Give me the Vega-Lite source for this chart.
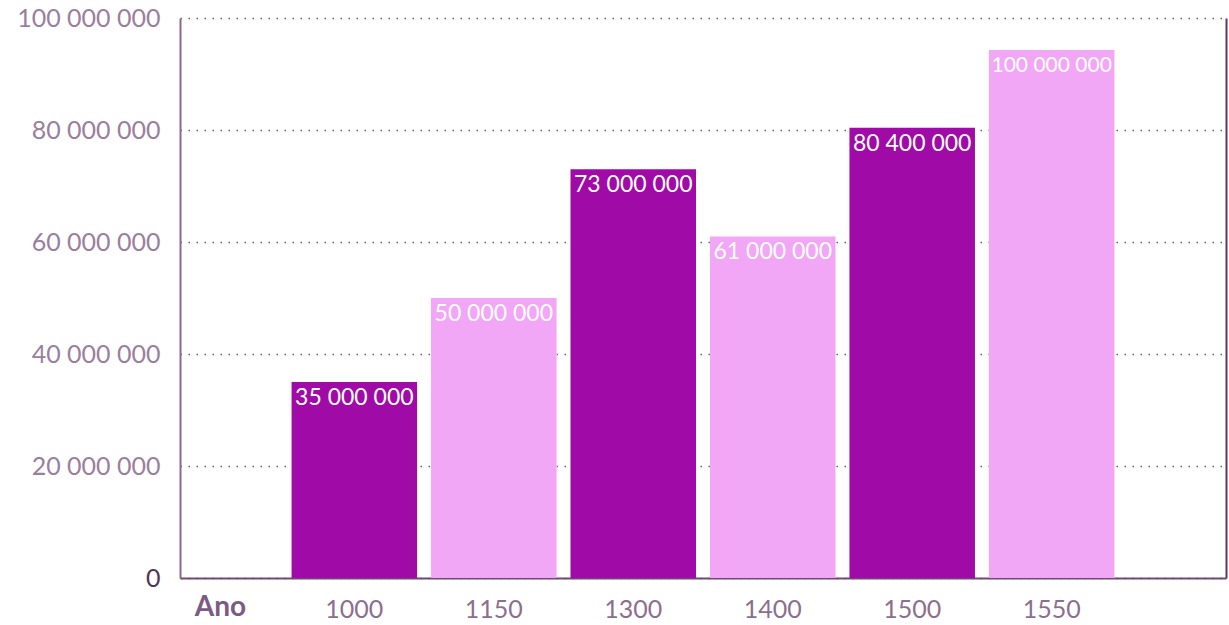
{
  "$schema": "https://vega.github.io/schema/vega-lite/v6.json",
  "autosize": "none",
  "width": 1046,
  "height": 560,
  "padding": {"left": 180, "top": 18, "right": 3, "bottom": 47},
  "background": "white",
  "config": {
    "font": "Lato",
    "view": {"stroke": null},
    "locale": {"number": {"decimal": ",", "thousands": " ", "grouping": [3], "currency": ["", ""]}}
  },
  "data": {
    "values": [
      {"Ano": "1000", "Populacao": 35000000, "rotulo": "35 000 000"},
      {"Ano": "1150", "Populacao": 50000000, "rotulo": "50 000 000"},
      {"Ano": "1300", "Populacao": 73000000, "rotulo": "73 000 000"},
      {"Ano": "1400", "Populacao": 61000000, "rotulo": "61 000 000"},
      {"Ano": "1500", "Populacao": 80400000, "rotulo": "80 400 000"},
      {"Ano": "1550", "Populacao": 94300000, "rotulo": "100 000 000"}
    ]
  },
  "encoding": {
    "x": {
      "field": "Ano",
      "type": "nominal",
      "sort": null,
      "scale": {"paddingInner": 0.1, "paddingOuter": 0.8},
      "axis": {
        "title": "Ano",
        "titleFont": "Lato",
        "titleFontSize": 28,
        "titleFontWeight": "bold",
        "titleColor": "#7d5a82",
        "titleAnchor": "start",
        "titleAlign": "center",
        "titleBaseline": "middle",
        "titleX": 40,
        "titleY": 29,
        "labelAngle": 0,
        "labelFontSize": 25,
        "labelColor": "#8c6f8f",
        "labelPadding": 19,
        "ticks": false,
        "domainColor": "#6e4a72",
        "domainWidth": 2,
        "grid": false
      }
    },
    "y": {
      "field": "Populacao",
      "type": "quantitative",
      "scale": {"domain": [0, 100000000]},
      "axis": {
        "title": null,
        "values": [0, 20000000, 40000000, 60000000, 80000000, 100000000],
        "format": ",d",
        "labelFontSize": 25,
        "labelColor": {"condition": {"test": "datum.value == 0", "value": "#4f3553"}, "value": "#9a7f9d"},
        "labelPadding": 20,
        "ticks": false,
        "domainColor": "#8a6a8e",
        "domainWidth": 2,
        "grid": true,
        "gridColor": "#666666",
        "gridDash": [1.5, 6.5],
        "gridWidth": 1.5
      }
    }
  },
  "layer": [
    {
      "mark": {"type": "bar"},
      "encoding": {
        "color": {
          "field": "Ano",
          "type": "nominal",
          "scale": {
            "domain": ["1000", "1150", "1300", "1400", "1500", "1550"],
            "range": ["#a00aa6", "#f2a6f6", "#a00aa6", "#f2a6f6", "#a00aa6", "#f2a6f6"]
          },
          "legend": null
        }
      }
    },
    {
      "mark": {"type": "text", "baseline": "top", "align": "center", "dy": 5, "color": "white", "font": "Lato"},
      "encoding": {
        "text": {"field": "rotulo"},
        "size": {"condition": {"test": "datum.Ano == '1550'", "value": 21}, "value": 23},
        "y": {
          "field": "Populacao",
          "type": "quantitative",
          "scale": {"domain": [0, 100000000]},
          "axis": {
            "orient": "right",
            "title": null,
            "labels": false,
            "ticks": false,
            "grid": false,
            "domainColor": "#5a3a5e",
            "domainWidth": 2
          }
        }
      }
    }
  ],
  "resolve": {"axis": {"y": "independent"}}
}
